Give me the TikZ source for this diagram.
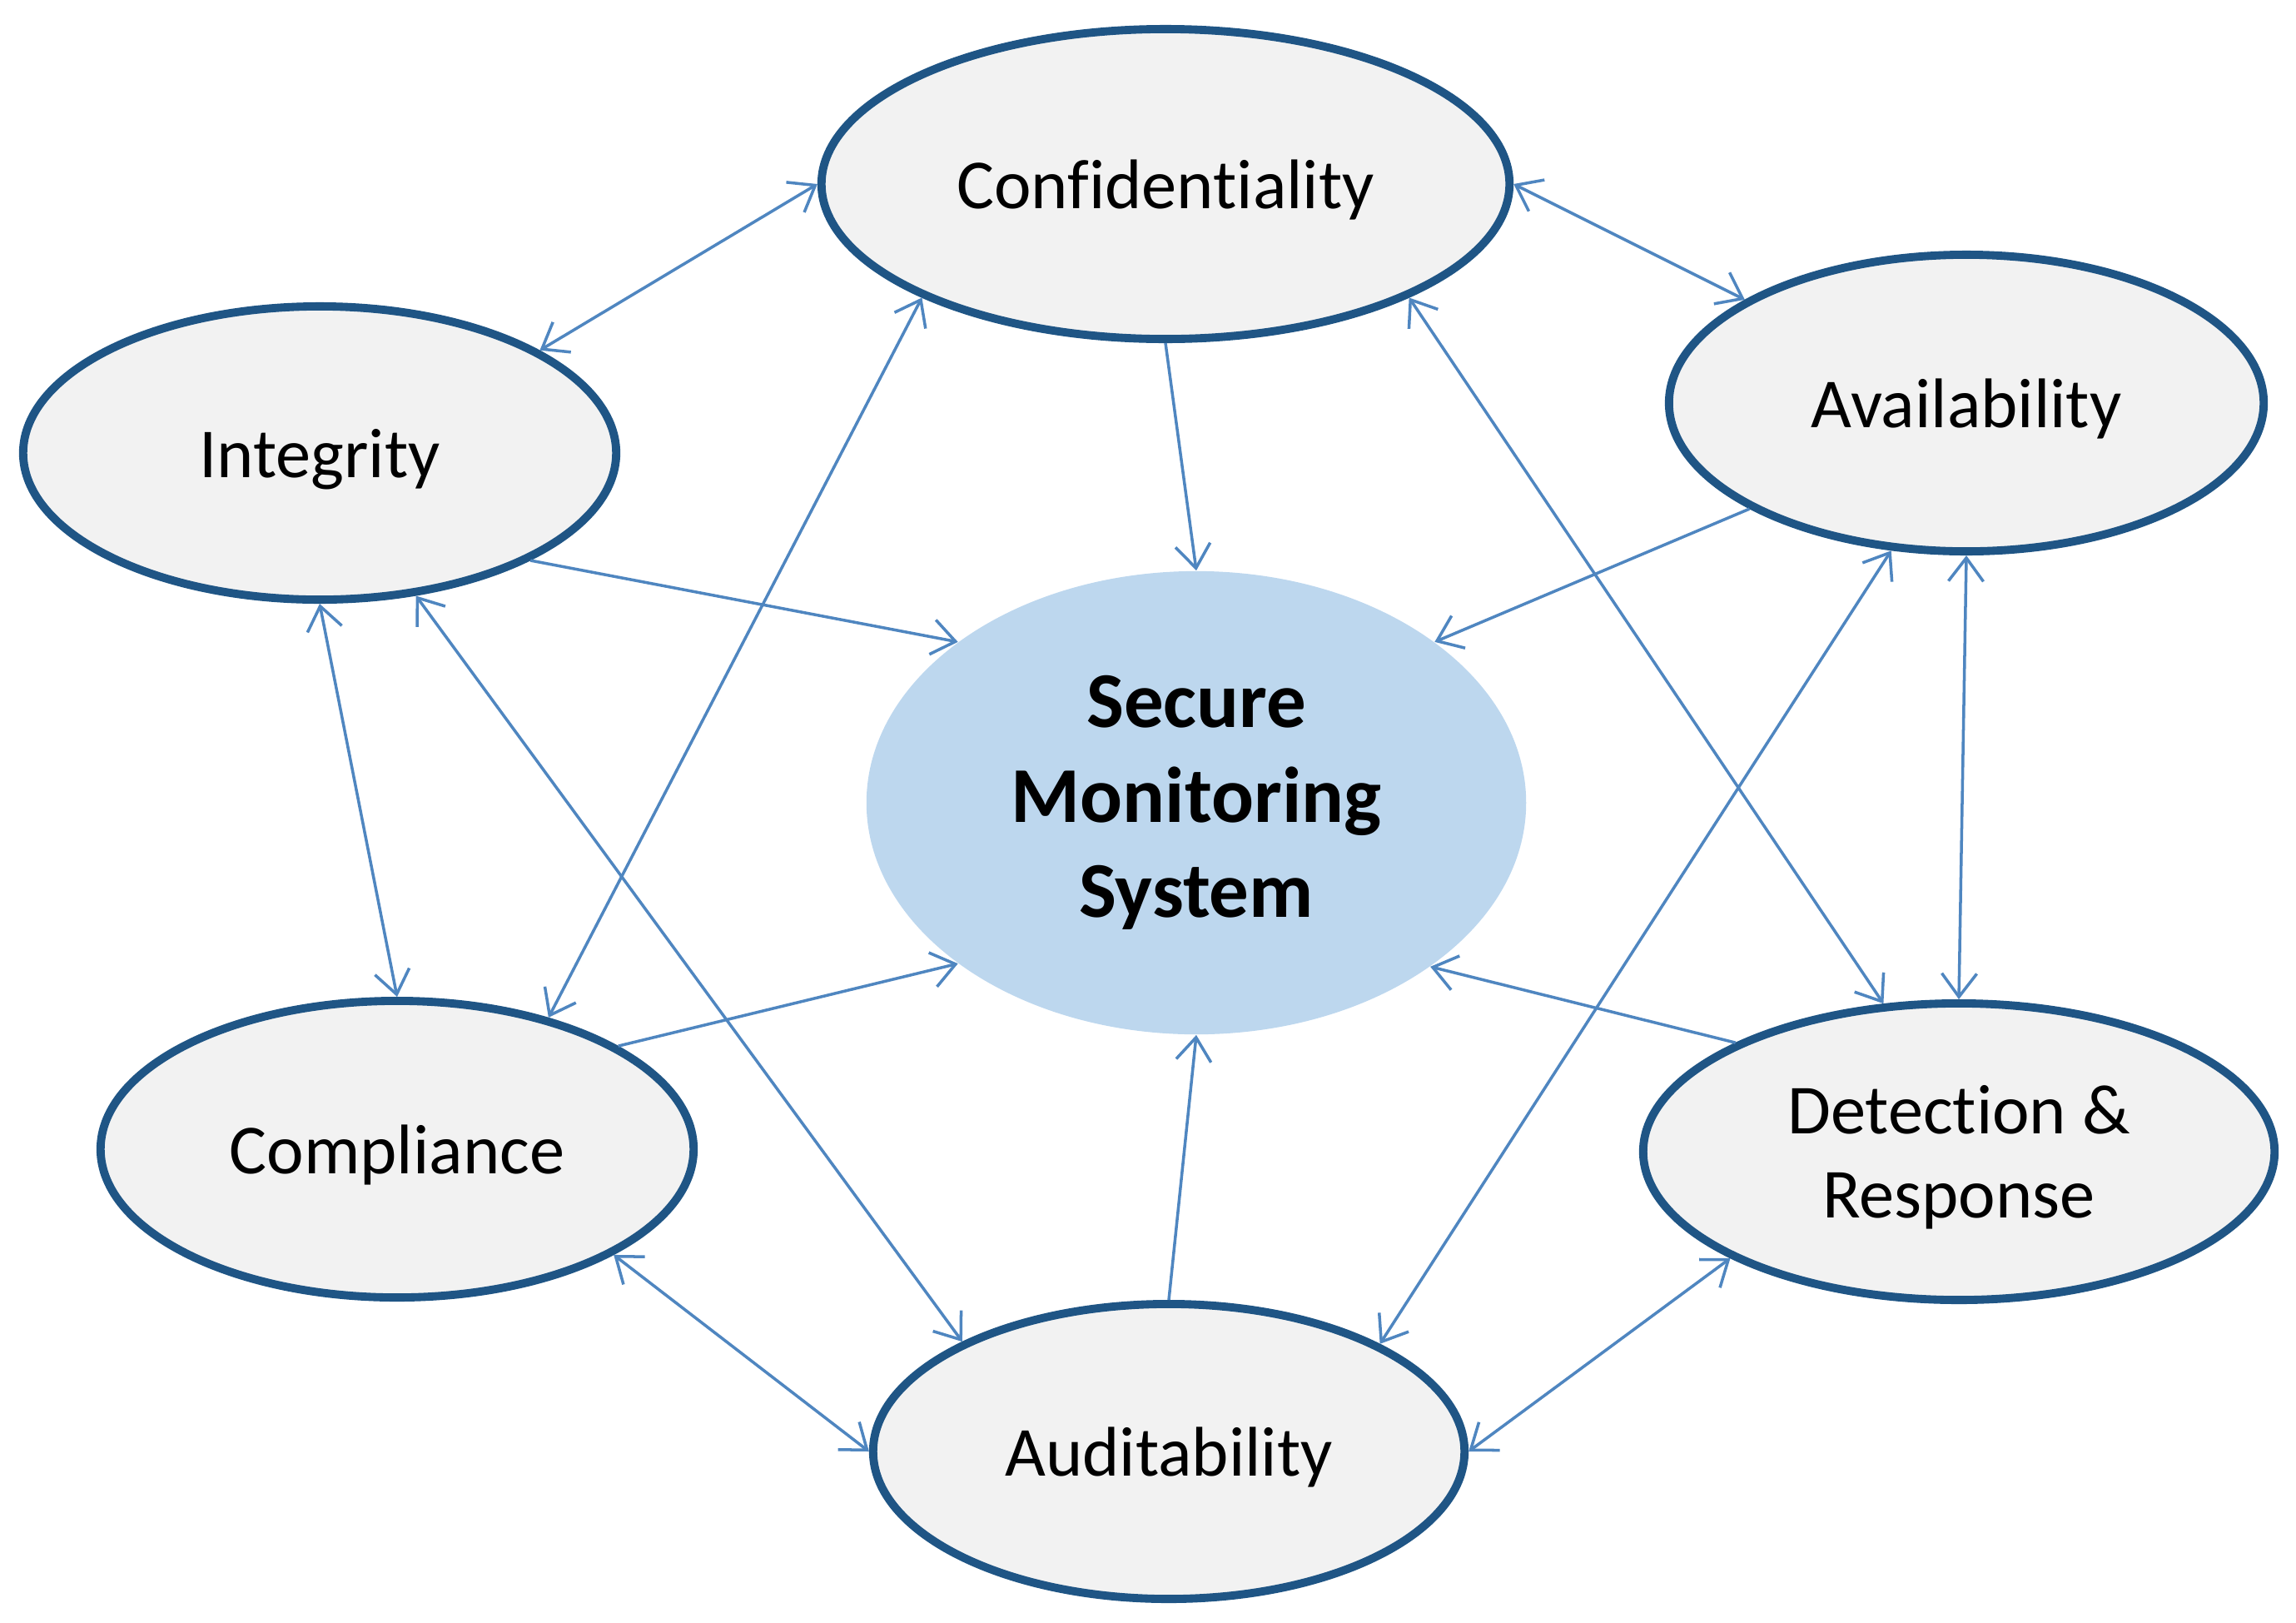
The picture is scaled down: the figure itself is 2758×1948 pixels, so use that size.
\documentclass[tikz,border=0pt]{standalone}
\usepackage{fontspec}
\setmainfont{Carlito}[Ligatures=NoCommon]
\usetikzlibrary{shapes.geometric,arrows.meta}
\definecolor{ringblue}{HTML}{1F5585}
\definecolor{arrowblue}{HTML}{4F86C0}
\definecolor{fillgray}{HTML}{F2F2F2}
\definecolor{smsblue}{HTML}{BDD7EE}
\begin{document}
\begin{tikzpicture}[x=0.01cm,y=-0.01cm,
  pillar/.style={ellipse, draw=ringblue, line width=2.8pt, fill=fillgray, inner sep=0pt,
    align=center, text depth=0pt, font=\fontsize{24}{28.8}\selectfont},
  core/.style={ellipse, fill=smsblue, inner sep=0pt, align=center,
    font=\fontsize{27}{32.4}\selectfont\bfseries},
  barb/.tip={Straight Barb[length=2.8mm,width=4.2mm]},
  link/.style={draw=arrowblue, line width=1pt, -barb},
  both/.style={draw=arrowblue, line width=1pt, barb-barb}]
\useasboundingbox (0,0) rectangle (2758,1948);
\node[core, minimum width=7.92cm, minimum height=5.56cm] (sms) at (1437,964) {Secure\\Monitoring\\System};
\node[pillar, minimum width=8.26cm, minimum height=3.72cm] (conf) at (1400,221) {Confidentiality};
\node[pillar, minimum width=7.12cm, minimum height=3.52cm] (integ) at (384,544) {Integrity};
\node[pillar, minimum width=7.14cm, minimum height=3.56cm] (avail) at (2362,484) {Availability};
\node[pillar, minimum width=7.12cm, minimum height=3.56cm] (compl) at (477,1380) {Compliance};
\node[pillar, minimum width=7.58cm, minimum height=3.56cm] (detect) at (2353,1383) {Detection \&\\Response};
\node[pillar, minimum width=7.10cm, minimum height=3.54cm] (audit) at (1404,1743) {Auditability};
\draw[both] (conf.180) -- (integ.25);
\draw[both] (conf.0) -- (avail.155);
\draw[link] (conf.270) -- (sms.90);
\draw[link] (integ.333.6) -- (sms.146);
\draw[link] (avail.206.6) -- (sms.34.4);
\draw[both] (integ.270) -- (compl.90);
\draw[both] (integ.304.6) -- (audit.152.5);
\draw[both] (conf.205) -- (compl.41.7);
\draw[link] (compl.25.2) -- (sms.214.4);
\draw[both] (compl.334.7) -- (audit.180);
\draw[both] (conf.335) -- (detect.117.3);
\draw[both] (avail.243.2) -- (audit.27.3);
\draw[both] (avail.270) -- (detect.90);
\draw[link] (detect.154.3) -- (sms.325.4);
\draw[link] (audit.90) -- (sms.270);
\draw[both] (audit.0) -- (detect.205.3);
\end{tikzpicture}
\end{document}
